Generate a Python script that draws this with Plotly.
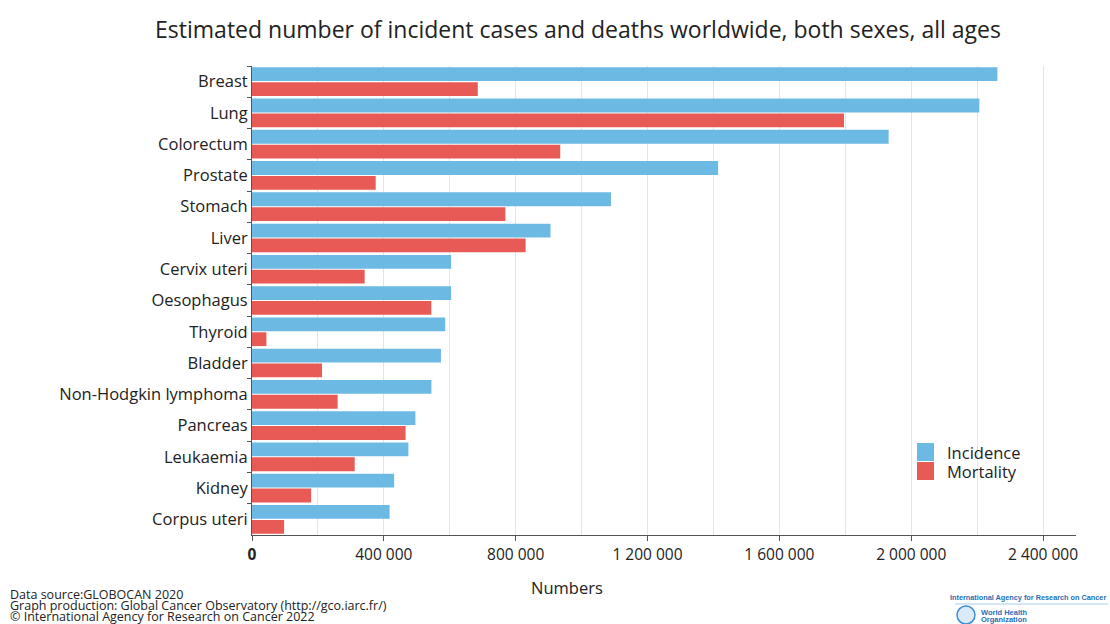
import plotly.graph_objects as go

categories = ["Breast", "Lung", "Colorectum", "Prostate", "Stomach", "Liver", "Cervix uteri",
              "Oesophagus", "Thyroid", "Bladder", "Non-Hodgkin lymphoma", "Pancreas",
              "Leukaemia", "Kidney", "Corpus uteri"]
incidence = [2261419, 2206771, 1931590, 1414259, 1089103, 905677, 604127,
             604100, 586202, 573278, 544352, 495773, 474519, 431288, 417367]
mortality = [684996, 1796144, 935173, 375304, 768793, 830180, 341831,
             544076, 43646, 212536, 259793, 466003, 311594, 179368, 97370]
tick_vals = [0, 400000, 800000, 1200000, 1600000, 2000000, 2400000]
tick_text = ["<b>0</b>", "400 000", "800 000", "1 200 000", "1 600 000", "2 000 000", "2 400 000"]
series_names = ["Incidence", "Mortality"]
series_colors = ["#6cb9e4", "#e85a55"]

FONT = "Open Sans, Noto Sans, sans-serif"
W, H = 1110, 624
L, R, T, B = 252, 34, 66, 89
PW, PH = W - L - R, H - T - B


def px(x):
    return (x - L) / PW


def py(y):
    return (H - B - y) / PH


fig = go.Figure()
for name, vals, col in zip(series_names, [incidence, mortality], series_colors):
    fig.add_trace(go.Bar(y=categories, x=vals, orientation="h", name=name, showlegend=False,
                         marker=dict(color=col, line=dict(width=0))))

fig.update_layout(
    width=W, height=H,
    paper_bgcolor="white", plot_bgcolor="white",
    font=dict(family=FONT, color="#222", size=16),
    barmode="group", bargap=0.05, bargroupgap=0.07,
    margin=dict(l=L, r=R, t=T, b=B),
    title=dict(text="Estimated number of incident cases and deaths worldwide, both sexes, all ages",
               x=578 / W, xanchor="center", y=1 - 30 / H, yanchor="middle",
               font=dict(size=23, family=FONT, color="#222")),
    xaxis=dict(range=[0, 2500000], tickvals=tick_vals, ticktext=tick_text,
               showgrid=True, gridcolor="#e4e4e4", gridwidth=1,
               minor=dict(dtick=200000, tick0=0, showgrid=True, gridcolor="#e4e4e4", ticks=""),
               showline=True, linecolor="#555", linewidth=1,
               ticks="outside", ticklen=5, tickcolor="#555",
               tickfont=dict(size=15.5, color="#222"), zeroline=False),
    yaxis=dict(autorange="reversed", showline=True, linecolor="#555", linewidth=1,
               ticks="outside", ticklen=4, tickcolor="#555", tickson="boundaries",
               tickfont=dict(size=16.5, color="#222"), showgrid=False),
)

# x-axis title
fig.add_annotation(text="Numbers", xref="paper", yref="paper", x=px(567), xanchor="center",
                   y=py(587), yanchor="middle", showarrow=False,
                   font=dict(size=16.5, color="#222", family=FONT))

# legend (drawn manually for large square swatches)
for i, (name, col) in enumerate(zip(series_names, series_colors)):
    y0 = 443 + i * 19
    fig.add_shape(type="rect", xref="paper", yref="paper", x0=px(917), x1=px(934),
                  y0=py(y0), y1=py(y0 + 18), line=dict(width=0), fillcolor=col)
    fig.add_annotation(text=name, xref="paper", yref="paper", x=px(945), xanchor="left",
                       y=py(y0 + 9), yanchor="middle", showarrow=False,
                       font=dict(size=16.5, color="#222", family=FONT))

footer = ["Data source:GLOBOCAN 2020",
          "Graph production: Global Cancer Observatory (http://gco.iarc.fr/)",
          "\u00a9 International Agency for Research on Cancer 2022"]
for i, t in enumerate(footer):
    ypix = 594.5 + i * 11
    fig.add_annotation(text=t, xref="paper", yref="paper", x=px(8), xanchor="left",
                       y=py(ypix), yanchor="middle", showarrow=False,
                       font=dict(size=12.5, color="#222", family=FONT))

NARROW = "Liberation Sans Narrow, Arial Narrow, sans-serif"
fig.add_annotation(text="<b>International Agency for Research on Cancer</b>", xref="paper", yref="paper",
                   x=px(1108), xanchor="right", y=py(597), yanchor="middle",
                   showarrow=False, font=dict(size=7.3, color="#1f6fb5", family=NARROW))
fig.add_shape(type="line", xref="paper", yref="paper", x0=px(955), x1=px(1108),
              y0=py(604), y1=py(604), line=dict(color="#a8cdee", width=1))
fig.add_shape(type="circle", xref="paper", yref="paper", x0=px(957), x1=px(975),
              y0=py(606), y1=py(624), line=dict(color="#3a8fd3", width=1.5), fillcolor="#dbeaf7")
fig.add_annotation(text="<b>World Health</b>", xref="paper", yref="paper",
                   x=px(979), xanchor="left", y=py(612), yanchor="middle",
                   showarrow=False, font=dict(size=7.5, color="#1f6fb5", family=NARROW))
fig.add_annotation(text="<b>Organization</b>", xref="paper", yref="paper",
                   x=px(979), xanchor="left", y=py(619.5), yanchor="middle",
                   showarrow=False, font=dict(size=7.5, color="#1f6fb5", family=NARROW))

fig.write_html("out.html", config={"displayModeBar": False})
with open("out.html", "r", encoding="utf-8") as f:
    html = f.read()
html = html.replace("<head>", "<head><style>html,body{margin:0;padding:0;overflow:hidden;}</style>", 1)
with open("out.html", "w", encoding="utf-8") as f:
    f.write(html)
